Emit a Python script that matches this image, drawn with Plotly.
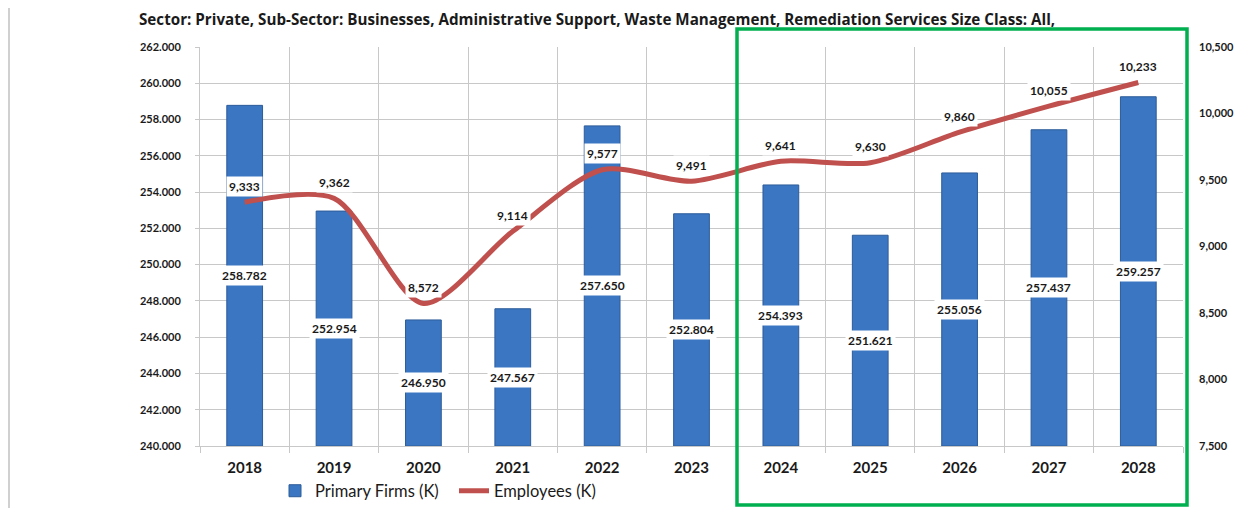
import plotly.graph_objects as go

years = ["2018", "2019", "2020", "2021", "2022", "2023", "2024", "2025", "2026", "2027", "2028"]
firms = [258.782, 252.954, 246.950, 247.567, 257.650, 252.804, 254.393, 251.621, 255.056, 257.437, 259.257]
employees = [9333, 9362, 8572, 9114, 9577, 9491, 9641, 9630, 9860, 10055, 10233]
title_text = "Sector: Private, Sub-Sector: Businesses, Administrative Support, Waste Management, Remediation Services Size Class: All,"

FONT = "Lato"
left_min, left_max = 240, 262
right_min, right_max = 7500, 10500

# page offset of the figure (body margin) is 8px; work in page pixels and convert
OFF = 8
W, H = 1243, 500
plot_l, plot_r, plot_t, plot_b = 200, 1183, 47, 446  # page pixels
ml, mt = plot_l - OFF, plot_t - OFF
mr, mb = W - (plot_r - OFF), H - (plot_b - OFF)
pw, ph = plot_r - plot_l, plot_b - plot_t


def px_x(px):
    return (px - plot_l) / pw


def px_y(py):
    return (plot_b - py) / ph


fig = go.Figure()
fig.add_trace(go.Bar(
    x=years, y=[v - left_min for v in firms], base=left_min,
    name="Primary Firms (K)", width=0.4,
    marker=dict(color="#3B76C2", line=dict(color="#2C5C99", width=1)),
    hoverinfo="skip",
))
fig.add_trace(go.Scatter(
    x=years, y=employees, name="Employees (K)", yaxis="y2",
    mode="lines", line=dict(color="#C0504D", width=5, shape="spline", smoothing=0.8),
))

ann = []
for i, v in enumerate(firms):
    ann.append(dict(x=i, y=(left_min + v) / 2, xref="x", yref="y", text=f"{v:.3f}",
                    showarrow=False, bgcolor="white", borderpad=2,
                    font=dict(family=FONT, size=12, color="#1a1a1a", weight="bold")))
for i, v in enumerate(employees):
    ann.append(dict(x=i, y=v, xref="x", yref="y2", text=f"{v:,}", yshift=16,
                    showarrow=False, bgcolor="white", borderpad=2,
                    font=dict(family=FONT, size=12, color="#1a1a1a", weight="bold")))
ann.append(dict(x=px_x(597), y=px_y(19), xref="paper", yref="paper", xanchor="center", yanchor="middle",
                text=title_text, showarrow=False,
                font=dict(family="Open Sans", size=15.2, color="#1a1a1a", weight="bold")))

shapes = [
    dict(type="rect", xref="paper", yref="paper", x0=px_x(737), x1=px_x(1187), y0=px_y(29), y1=px_y(505),
         line=dict(color="#00B050", width=3.5), fillcolor="rgba(0,0,0,0)", layer="above"),
    dict(type="line", xref="paper", yref="paper", x0=px_x(9), x1=px_x(9), y0=px_y(8), y1=px_y(520),
         line=dict(color="#D0D0D0", width=2)),
]

fig.update_layout(
    width=W, height=H,
    margin=dict(l=ml, r=mr, t=mt, b=mb, autoexpand=False),
    paper_bgcolor="white", plot_bgcolor="white",
    showlegend=True,
    legend=dict(orientation="h", xref="container", yref="container",
                x=(275 - OFF) / W, y=(H - (491 - OFF)) / H, xanchor="left", yanchor="middle",
                entrywidth=134, entrywidthmode="pixels",
                font=dict(family=FONT, size=16.5, color="#1a1a1a"), tracegroupgap=0,
                bgcolor="rgba(0,0,0,0)"),
    xaxis=dict(type="category", range=[-0.5, len(years) - 0.5], autorange=False, automargin=False,
               tickson="boundaries", showgrid=True, gridcolor="#C8C8C8", gridwidth=1,
               ticks="outside", ticklen=6, tickcolor="#C8C8C8", showline=True, linecolor="#C8C8C8",
               tickangle=0, ticklabelstandoff=8,
               tickfont=dict(family=FONT, size=15, color="#1a1a1a", weight="bold")),
    yaxis=dict(range=[left_min, left_max], dtick=2, tickformat=".3f", showgrid=True, gridcolor="#C8C8C8",
               showline=True, linecolor="#C8C8C8", ticks="outside", ticklen=4, tickcolor="#C8C8C8",
               automargin=False, ticklabelstandoff=12,
               tickfont=dict(family=FONT, size=11, color="#1a1a1a", weight="bold"), zeroline=False),
    yaxis2=dict(range=[right_min, right_max], dtick=500, tickformat=",", overlaying="y", side="right",
                showgrid=False, zeroline=False, ticks="", ticklabelstandoff=15, automargin=False,
                tickfont=dict(family=FONT, size=11, color="#1a1a1a", weight="bold")),
    annotations=ann,
    shapes=shapes,
    bargap=0.6,
)

fig.write_html("out.html")
